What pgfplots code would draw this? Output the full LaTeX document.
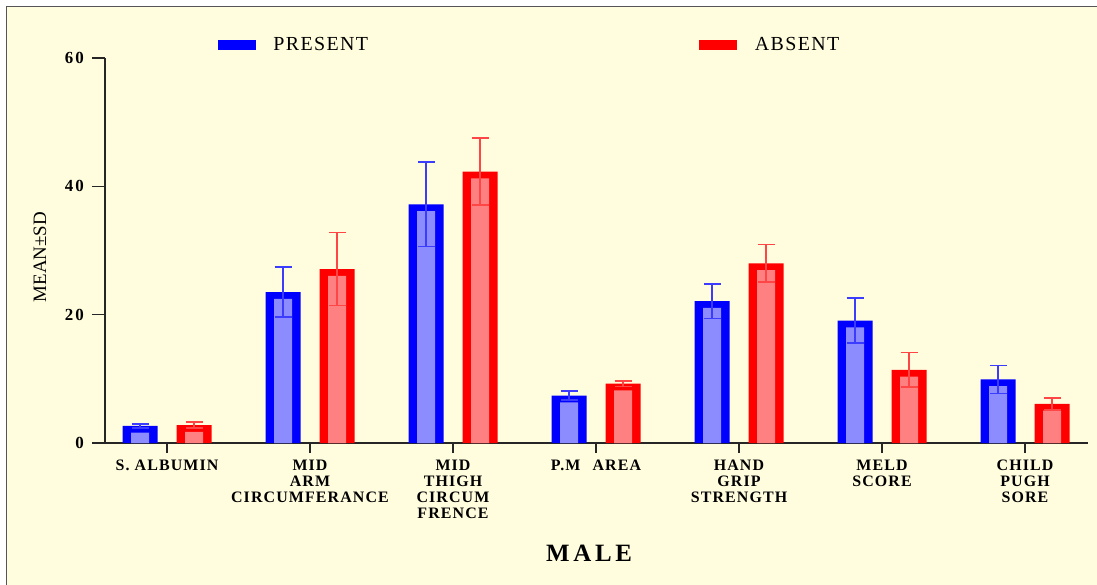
\documentclass[border=0pt]{standalone}
\usepackage{pgfplots}
\pgfplotsset{compat=1.18}
\usepackage{pgfplotstable}
\usepackage{fontspec}
\setmainfont{Liberation Serif}
\newfontfamily\lsr[LetterSpace=7]{Liberation Serif}
\newfontfamily\lsn[LetterSpace=12]{Liberation Serif}
\newfontfamily\lsw[LetterSpace=15]{Liberation Serif}
\definecolor{bg}{RGB}{255,253,222}
\definecolor{lblue}{RGB}{140,140,255}
\definecolor{lred}{RGB}{255,128,128}
\definecolor{eblue}{RGB}{60,60,255}
\definecolor{ered}{RGB}{255,70,70}
\definecolor{framec}{RGB}{85,85,85}

\pgfplotstableread{
x p ps a as
0 2.65 0.3 2.8 0.5
1 23.5 3.9 27.1 5.7
2 37.2 6.6 42.3 5.2
3 7.4 0.7 9.25 0.45
4 22.1 2.7 28.0 2.9
5 19.06 3.5 11.4 2.7
6 9.9 2.2 6.1 0.95
}\data

\begin{document}
\begin{tikzpicture}
\useasboundingbox (0,0) rectangle (1097bp,585bp);
\fill[bg] (7bp,0) rectangle (1097bp,578bp);
\draw[framec, line width=1.8bp] (6.5bp,0) -- (6.5bp,578.5bp) -- (1097bp,578.5bp);
\begin{axis}[
 at={(105bp,142bp)}, anchor=south west,
 scale only axis, width=983bp, height=385bp,
 xmin=-0.4336, xmax=6.4406, ymin=0, ymax=60,
 clip=false,
 axis x line*=bottom, axis y line*=left,
 axis line style={black!85, line width=1.3bp},
 tick align=outside,
 tick style={black!85, line width=1.3bp},
 major tick length=13bp,
 xtick style={/pgfplots/major tick length=10bp},
 xtick={0,...,6}, ytick={0,20,40,60},
 xticklabels={{S. ALBUMIN},{MID\\ARM\\CIRCUMFERANCE},{MID\\THIGH\\CIRCUM\\FRENCE},{P.M\hspace{12bp}AREA},{HAND\\GRIP\\STRENGTH},{MELD\\SCORE},{CHILD\\PUGH\\SORE}},
 xticklabel style={font=\lsr\bfseries\fontsize{16}{16}\selectfont, align=center, inner sep=0pt, yshift=-4bp},
 yticklabel style={font=\lsn\bfseries\fontsize{17}{17}\selectfont, inner sep=0pt, xshift=-8bp},
 /pgf/number format/assume math mode=true,
 xlabel={MALE},
 xlabel style={at={(axis description cs:0.4924,-0.2857)}, anchor=center, font=\lsw\bfseries\fontsize{25}{25}\selectfont},
 ylabel={MEAN±SD},
 ylabel style={at={(axis description cs:-0.0661,0.483)}, anchor=center, font=\fontsize{19}{19}\selectfont},
 legend columns=2,
 legend style={at={(0.115,1.035)}, anchor=west, draw=none, fill=none, inner sep=0pt, outer sep=0pt,
   nodes={inner sep=0pt}, font=\lsr\fontsize{20}{20}\selectfont,
   /tikz/every odd column/.append style={column sep=18bp}},
]
\addplot[ybar, forget plot, bar width=35bp, bar shift=-27bp, fill=blue, draw=none] table[x=x,y=p]{\data};
\addplot[ybar, forget plot, bar width=18bp, bar shift=-27bp, fill=lblue, draw=none] table[x=x,y expr=\thisrow{p}-1.05]{\data};
\addplot[ybar, forget plot, bar width=35bp, bar shift=27bp, fill=red, draw=none] table[x=x,y=a]{\data};
\addplot[ybar, forget plot, bar width=18bp, bar shift=27bp, fill=lred, draw=none] table[x=x,y expr=\thisrow{a}-1.05]{\data};
\addplot[forget plot, draw=none, mark=none, error bars/.cd, y dir=both, y explicit,
  error bar style={draw=eblue, line width=1.5bp},
  error mark options={draw=eblue, line width=1.5bp, mark size=8.5bp, rotate=90}]
  table[x expr=\thisrow{x}-0.1888, y=p, y error=ps]{\data};
\addplot[forget plot, draw=none, mark=none, error bars/.cd, y dir=both, y explicit,
  error bar style={draw=ered, line width=1.5bp},
  error mark options={draw=ered, line width=1.5bp, mark size=8.5bp, rotate=90}]
  table[x expr=\thisrow{x}+0.1888, y=a, y error=as]{\data};
\addlegendimage{legend image code/.code={\fill[blue] (0bp,-4.5bp) rectangle (37bp,4.5bp);}}
\addlegendentry{\makebox[426bp][l]{PRESENT}}
\addlegendimage{legend image code/.code={\fill[red] (0bp,-4.5bp) rectangle (37bp,4.5bp);}}
\addlegendentry{ABSENT}
\end{axis}
\end{tikzpicture}
\end{document}
